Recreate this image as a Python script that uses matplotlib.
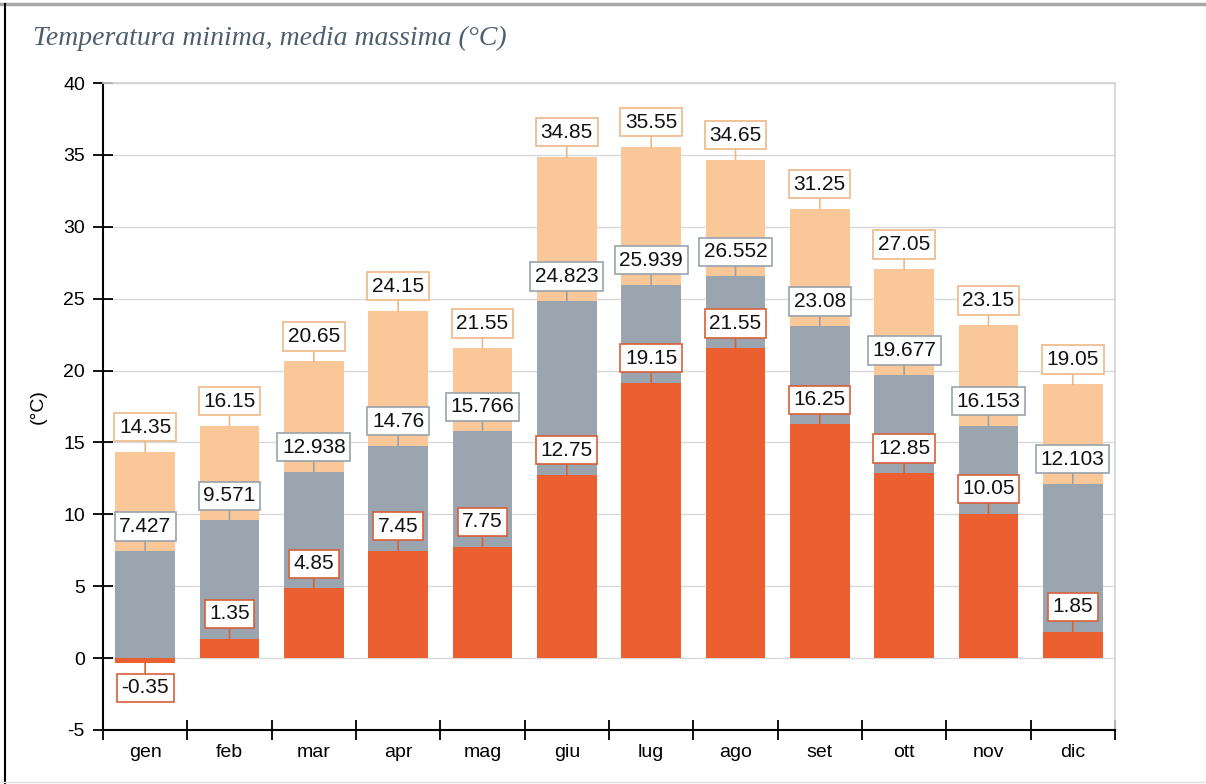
import numpy as np
import matplotlib.pyplot as plt
from matplotlib.lines import Line2D

plt.rcParams['font.family'] = ['Liberation Sans', 'DejaVu Sans']
plt.rcParams['axes.unicode_minus'] = False

months = ['gen', 'feb', 'mar', 'apr', 'mag', 'giu', 'lug', 'ago', 'set', 'ott', 'nov', 'dic']
t_max = [14.35, 16.15, 20.65, 24.15, 21.55, 34.85, 35.55, 34.65, 31.25, 27.05, 23.15, 19.05]
t_mean = [7.427, 9.571, 12.938, 14.76, 15.766, 24.823, 25.939, 26.552, 23.08, 19.677, 16.153, 12.103]
t_min = [-0.35, 1.35, 4.85, 7.45, 7.75, 12.75, 19.15, 21.55, 16.25, 12.85, 10.05, 1.85]
mean_labels = ['7.427', '9.571', '12.938', '14.76', '15.766', '24.823', '25.939', '26.552',
               '23.08', '19.677', '16.153', '12.103']

c_max, e_max = '#FAC898', '#EDB888'
c_mean, e_mean = '#9BA5AF', '#98A2AC'
c_min, e_min = '#EB5F31', '#D6603A'

fig = plt.figure(figsize=(12.06, 7.84), dpi=100)
ax = fig.add_axes([0.0854, 0.0689, 0.8391, 0.8252])

x = np.arange(len(months))
w = 0.71
ax.bar(x, t_max, w, color=c_max, zorder=2)
ax.bar(x, t_mean, w, color=c_mean, zorder=3)
ax.bar(x, t_min, w, color=c_min, zorder=4)


def label(xi, val, txt, edge):
    off = 11 if val >= 0 else -11
    ax.annotate(txt, xy=(xi, val), xytext=(0, off), textcoords='offset points',
                ha='center', va='bottom' if val >= 0 else 'top', fontsize=15,
                color='#111111', zorder=10,
                bbox=dict(boxstyle='square,pad=0.22', fc='white', ec=edge, lw=1.2),
                arrowprops=dict(arrowstyle='-', color=edge, lw=1.2, shrinkA=0, shrinkB=0))


for i in range(len(months)):
    label(x[i], t_max[i], '%g' % t_max[i], e_max)
    label(x[i], t_mean[i], mean_labels[i], e_mean)
    label(x[i], t_min[i], '%g' % t_min[i], e_min)

ax.set_xlim(-0.5, 11.5)
ax.set_ylim(-5, 40)
ax.set_yticks(np.arange(-5, 41, 5))
ax.yaxis.grid(True, color='#D9D9D9', lw=1, zorder=0)
ax.set_axisbelow(True)

ax.set_xticks(np.arange(-0.5, 12, 1))
ax.set_xticklabels([])
ax.set_xticks(x, minor=True)
ax.set_xticklabels(months, minor=True, fontsize=14)
ax.tick_params(axis='x', which='major', direction='inout', length=14, width=1.3, color='black')
ax.tick_params(axis='x', which='minor', length=0, pad=10)
ax.tick_params(axis='y', direction='inout', length=14, width=1.3, color='black', labelsize=14, pad=6)

for s in ['left', 'bottom']:
    ax.spines[s].set_color('black')
    ax.spines[s].set_linewidth(1.5)
for s in ['top', 'right']:
    ax.spines[s].set_color('#D4D4D4')
    ax.spines[s].set_linewidth(1.2)

ax.set_ylabel('(°C)', fontsize=14, labelpad=12)

fig.text(0.027, 0.951, 'Temperatura minima, media massima (°C)', fontsize=20,
         family='Liberation Serif', style='italic', color='#4D5F6E', va='center')

# outer frame of the original page
fig.add_artist(Line2D([0, 1], [0.995, 0.995], color='#A8A8A8', lw=2.5))
fig.add_artist(Line2D([0.0045, 0.0045], [0, 0.995], color='black', lw=1.5))
fig.add_artist(Line2D([0, 1], [0.003, 0.003], color='#E0E0E0', lw=1))

fig.savefig('out.png', dpi=100)
